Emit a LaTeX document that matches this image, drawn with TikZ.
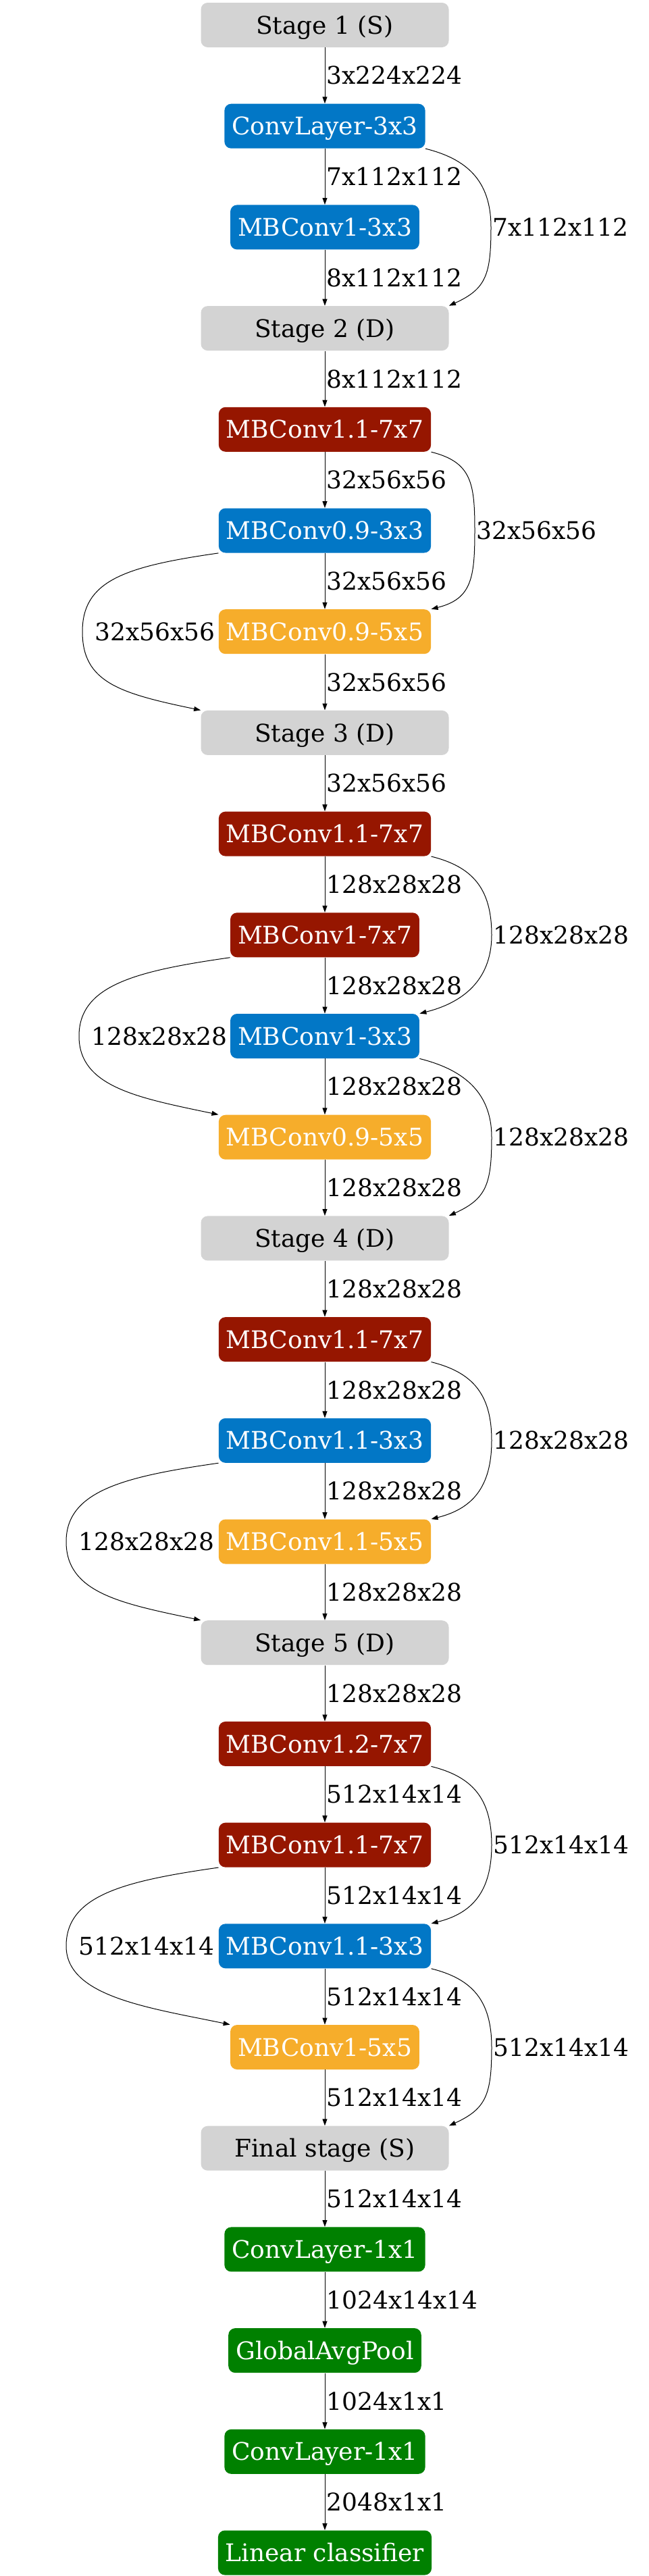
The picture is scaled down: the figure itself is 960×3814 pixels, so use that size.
\documentclass[tikz,border=0pt]{standalone}
\usepackage{fontspec}
\setmainfont{DejaVu Serif}
\usetikzlibrary{arrows.meta}
\definecolor{stagegray}{HTML}{D3D3D3}
\definecolor{mbblue}{HTML}{0277C6}
\definecolor{mbred}{HTML}{961600}
\definecolor{mborange}{HTML}{F6AD2B}
\definecolor{mbgreen}{HTML}{008000}

\begin{document}
\begin{tikzpicture}[x=0.5pt, y=-0.5pt, every node/.style={font=\fontsize{18}{22}\selectfont, text height=13.1pt, text depth=0pt}]
\useasboundingbox (0,0) rectangle (960,3814);
\tikzset{block/.style={rounded corners=5pt, minimum height=33pt, inner xsep=5.5pt, text=white}}
\tikzset{stagebox/.style={block, fill=stagegray, text=black, minimum width=183.5pt}}
\tikzset{bluebox/.style={block, fill=mbblue}, redbox/.style={block, fill=mbred}}
\tikzset{orangebox/.style={block, fill=mborange}, greenbox/.style={block, fill=mbgreen}}
\node[stagebox] (n0) at (481, 37) {Stage 1 (S)};
\node[bluebox] (n1) at (481, 186.7) {ConvLayer-3x3};
\node[bluebox] (n2) at (481, 336.4) {MBConv1-3x3};
\node[stagebox] (n3) at (481, 486.1) {Stage 2 (D)};
\node[redbox] (n4) at (481, 635.8) {MBConv1.1-7x7};
\node[bluebox] (n5) at (481, 785.5) {MBConv0.9-3x3};
\node[orangebox] (n6) at (481, 935.2) {MBConv0.9-5x5};
\node[stagebox] (n7) at (481, 1084.9) {Stage 3 (D)};
\node[redbox] (n8) at (481, 1234.6) {MBConv1.1-7x7};
\node[redbox] (n9) at (481, 1384.3) {MBConv1-7x7};
\node[bluebox] (n10) at (481, 1534) {MBConv1-3x3};
\node[orangebox] (n11) at (481, 1683.7) {MBConv0.9-5x5};
\node[stagebox] (n12) at (481, 1833.4) {Stage 4 (D)};
\node[redbox] (n13) at (481, 1983.1) {MBConv1.1-7x7};
\node[bluebox] (n14) at (481, 2132.8) {MBConv1.1-3x3};
\node[orangebox] (n15) at (481, 2282.5) {MBConv1.1-5x5};
\node[stagebox] (n16) at (481, 2432.2) {Stage 5 (D)};
\node[redbox] (n17) at (481, 2581.9) {MBConv1.2-7x7};
\node[redbox] (n18) at (481, 2731.6) {MBConv1.1-7x7};
\node[bluebox] (n19) at (481, 2881.3) {MBConv1.1-3x3};
\node[orangebox] (n20) at (481, 3031) {MBConv1-5x5};
\node[stagebox] (n21) at (481, 3180.7) {Final stage (S)};
\node[greenbox] (n22) at (481, 3330.4) {ConvLayer-1x1};
\node[greenbox] (n23) at (481, 3480.1) {GlobalAvgPool};
\node[greenbox] (n24) at (481, 3629.8) {ConvLayer-1x1};
\node[greenbox] (n25) at (481, 3779.5) {Linear classifier};

\tikzset{flow/.style={-{Triangle[length=5pt, width=3.5pt]}, line width=0.5pt}};
\tikzset{dims/.style={anchor=west, inner sep=1pt}, dimsleft/.style={anchor=west, inner sep=1pt, xshift=8pt}};
\path (n0) edge [flow] node [dims] {3x224x224} (n1);
\path (n1) edge [flow] node [dims] {7x112x112} (n2);
\path (n2) edge [flow] node [dims] {8x112x112} (n3);
\path (n3) edge [flow] node [dims] {8x112x112} (n4);
\path (n4) edge [flow] node [dims] {32x56x56} (n5);
\path (n5) edge [flow] node [dims] {32x56x56} (n6);
\path (n6) edge [flow] node [dims] {32x56x56} (n7);
\path (n7) edge [flow] node [dims] {32x56x56} (n8);
\path (n8) edge [flow] node [dims] {128x28x28} (n9);
\path (n9) edge [flow] node [dims] {128x28x28} (n10);
\path (n10) edge [flow] node [dims] {128x28x28} (n11);
\path (n11) edge [flow] node [dims] {128x28x28} (n12);
\path (n12) edge [flow] node [dims] {128x28x28} (n13);
\path (n13) edge [flow] node [dims] {128x28x28} (n14);
\path (n14) edge [flow] node [dims] {128x28x28} (n15);
\path (n15) edge [flow] node [dims] {128x28x28} (n16);
\path (n16) edge [flow] node [dims] {128x28x28} (n17);
\path (n17) edge [flow] node [dims] {512x14x14} (n18);
\path (n18) edge [flow] node [dims] {512x14x14} (n19);
\path (n19) edge [flow] node [dims] {512x14x14} (n20);
\path (n20) edge [flow] node [dims] {512x14x14} (n21);
\path (n21) edge [flow] node [dims] {512x14x14} (n22);
\path (n22) edge [flow] node [dims] {1024x14x14} (n23);
\path (n23) edge [flow] node [dims] {1024x1x1} (n24);
\path (n24) edge [flow] node [dims] {2048x1x1} (n25);

% skip connections
\draw [flow] (n1.south east) .. controls +(60,15) and +(0,-70) .. (727,0 |- n2) node [dims] {7x112x112} .. controls +(0,70) and +(55,-25) .. (n3.north east);
\draw [flow] (n4.south east) .. controls +(60,15) and +(0,-70) .. (703,0 |- n5) node [dims] {32x56x56} .. controls +(0,70) and +(60,-15) .. (n6.north east);
\draw [flow] (n8.south east) .. controls +(60,15) and +(0,-70) .. (728,0 |- n9) node [dims] {128x28x28} .. controls +(0,70) and +(60,-15) .. (n10.north east);
\draw [flow] (n10.south east) .. controls +(60,15) and +(0,-70) .. (728,0 |- n11) node [dims] {128x28x28} .. controls +(0,70) and +(55,-25) .. (n12.north east);
\draw [flow] (n13.south east) .. controls +(60,15) and +(0,-70) .. (728,0 |- n14) node [dims] {128x28x28} .. controls +(0,70) and +(60,-15) .. (n15.north east);
\draw [flow] (n17.south east) .. controls +(60,15) and +(0,-70) .. (728,0 |- n18) node [dims] {512x14x14} .. controls +(0,70) and +(60,-15) .. (n19.north east);
\draw [flow] (n19.south east) .. controls +(60,15) and +(0,-70) .. (728,0 |- n20) node [dims] {512x14x14} .. controls +(0,70) and +(55,-25) .. (n21.north east);
\draw [flow] (n5.south west) .. controls +(-140,20) and +(0,-75) .. (122,0 |- n6) node [dimsleft] {32x56x56} .. controls +(0,75) and +(-120,-25) .. (n7.north west);
\draw [flow] (n9.south west) .. controls +(-140,20) and +(0,-75) .. (117,0 |- n10) node [dimsleft] {128x28x28} .. controls +(0,75) and +(-120,-25) .. (n11.north west);
\draw [flow] (n14.south west) .. controls +(-140,20) and +(0,-75) .. (98,0 |- n15) node [dimsleft] {128x28x28} .. controls +(0,75) and +(-120,-25) .. (n16.north west);
\draw [flow] (n18.south west) .. controls +(-140,20) and +(0,-75) .. (98,0 |- n19) node [dimsleft] {512x14x14} .. controls +(0,75) and +(-120,-25) .. (n20.north west);
\end{tikzpicture}
\end{document}
